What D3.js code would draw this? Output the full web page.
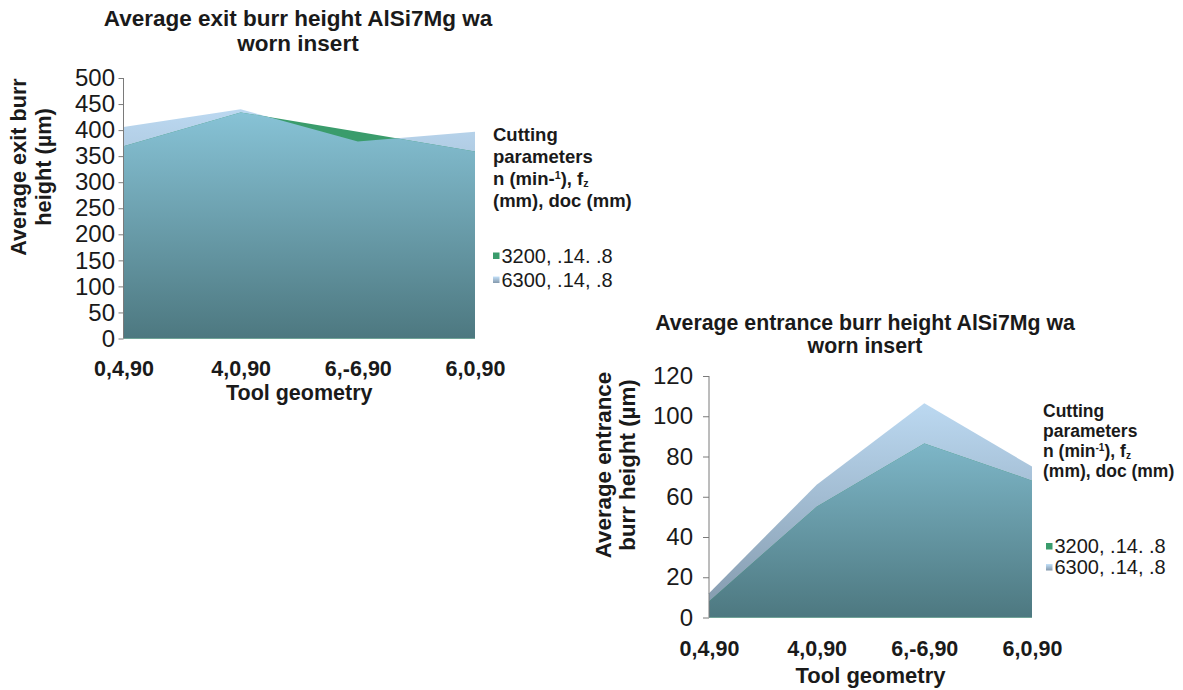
<!DOCTYPE html>
<html>
<head>
<meta charset="utf-8">
<script src="https://cdn.jsdelivr.net/npm/d3@7"></script>
<style>
  html, body { margin: 0; padding: 0; background: #ffffff; }
  svg text { font-family: "Liberation Sans", Arial, Helvetica, sans-serif; fill: #1a1a1a; }
</style>
</head>
<body>
<svg id="chart" width="1183" height="690"></svg>
<script>
// Tool geometry categories shared by both charts
const categories = ["0,4,90", "4,0,90", "6,-6,90", "6,0,90"];

// Cutting parameter sets (n, fz, doc)
const seriesNames = ["3200, .14. .8", "6300, .14, .8"];

// Average exit burr height (µm)
const exit3200 = [369, 434, 397, 359];
const exit6300 = [406, 440, 378, 397];
const exitTicks = [0, 50, 100, 150, 200, 250, 300, 350, 400, 450, 500];

// Average entrance burr height (µm)
const entrance3200 = [8, 55, 86.5, 68];
const entrance6300 = [12, 66, 106.5, 75];
const entranceTicks = [0, 20, 40, 60, 80, 100, 120];

const svg = d3.select("#chart");
const defs = svg.append("defs");

function addGradient(id, y1, y2, stops) {
  const g = defs.append("linearGradient")
    .attr("id", id)
    .attr("gradientUnits", "userSpaceOnUse")
    .attr("x1", 0).attr("x2", 0)
    .attr("y1", y1).attr("y2", y2);
  stops.forEach(s => g.append("stop").attr("offset", s[0]).attr("stop-color", s[1]));
}

const GREEN = "#3a9c6c";
const BAND_STOPS = [[0, "#c3e1fa"], [1, "#8298ab"]];
const FRONT_STOPS = [[0, "#90cee3"], [1, "#4d7880"]];

function drawChart(cfg) {
  const g = svg.append("g");

  const x = d3.scalePoint().domain(categories).range([cfg.left, cfg.right]);
  const y = d3.scaleLinear().domain([0, d3.max(cfg.ticks)]).range([cfg.bottom, cfg.top]);

  addGradient(cfg.id + "-band", cfg.top, cfg.bottom, BAND_STOPS);
  addGradient(cfg.id + "-front", cfg.top, cfg.bottom, FRONT_STOPS);

  const area = d3.area()
    .x((d, i) => x(categories[i]))
    .y0(y(0))
    .y1(d => y(d));

  // clip region: area under the 3200 series
  defs.append("clipPath").attr("id", cfg.id + "-clip")
    .append("path").attr("d", area(cfg.low));

  // 6300 series over the white background
  g.append("path").attr("d", area(cfg.high)).attr("fill", `url(#${cfg.id}-band)`);
  // 3200 series
  g.append("path").attr("d", area(cfg.low)).attr("fill", GREEN);
  // 6300 series seen through the 3200 series
  g.append("path").attr("d", area(cfg.high))
    .attr("clip-path", `url(#${cfg.id}-clip)`)
    .attr("fill", `url(#${cfg.id}-front)`);

  // y axis
  const yAxis = d3.axisLeft(y).tickValues(cfg.ticks).tickSize(cfg.tickLen).tickPadding(cfg.tickPad);
  const ay = g.append("g").attr("transform", `translate(${cfg.left},0)`).call(yAxis);
  ay.select(".domain").attr("stroke", "#7a7a7a").attr("d", `M0,${y(d3.max(cfg.ticks))}V${y(0)}`);
  ay.selectAll(".tick line").attr("stroke", "#7a7a7a");
  ay.selectAll(".tick text")
    .style("font-size", cfg.tickFont + "px")
    .style("fill", "#1a1a1a")
    .attr("font-family", null);

  // x category labels
  const xAxis = d3.axisBottom(x).tickSize(0).tickPadding(0);
  const ax = g.append("g").attr("transform", `translate(0,${cfg.xLabelY})`).call(xAxis);
  ax.select(".domain").remove();
  ax.selectAll(".tick text")
    .attr("dy", null).attr("y", 0)
    .style("font-size", cfg.xFont + "px")
    .style("font-weight", "bold")
    .style("fill", "#1a1a1a")
    .attr("font-family", null);

  // x axis title
  g.append("text")
    .attr("x", (cfg.left + cfg.right) / 2).attr("y", cfg.xTitleY)
    .attr("text-anchor", "middle")
    .style("font-size", cfg.xTitleFont + "px").style("font-weight", "bold")
    .text("Tool geometry");

  // chart title
  cfg.title.forEach((line, i) => {
    g.append("text")
      .attr("x", cfg.titleX).attr("y", cfg.titleY + i * cfg.titleGap)
      .attr("text-anchor", "middle")
      .style("font-size", cfg.titleFont + "px").style("font-weight", "bold")
      .text(line);
  });

  // y axis title (rotated, two lines)
  cfg.yTitle.forEach((line, i) => {
    g.append("text")
      .attr("transform", `translate(${cfg.yTitleX + i * cfg.yTitleGap},${cfg.yTitleMid}) rotate(-90)`)
      .attr("text-anchor", "middle")
      .style("font-size", cfg.yTitleFont + "px").style("font-weight", "bold")
      .text(line);
  });

  // legend heading
  const lg = g.append("g");
  const small = (cfg.legFont * 0.58) + "px";
  const head = (i) => lg.append("text")
    .attr("x", cfg.legX).attr("y", cfg.legY + i * cfg.legGap)
    .style("font-size", cfg.legFont + "px").style("font-weight", "bold");
  head(0).text("Cutting");
  head(1).text("parameters");
  const l3 = head(2);
  l3.append("tspan").text("n (min");
  if (cfg.supMinus) {
    l3.append("tspan").attr("dy", -6).style("font-size", small).text("-1");
    l3.append("tspan").attr("dy", 6).text("), f");
  } else {
    l3.append("tspan").text("-");
    l3.append("tspan").attr("dy", -6).style("font-size", small).text("1");
    l3.append("tspan").attr("dy", 6).text("), f");
  }
  l3.append("tspan").attr("dy", 2).style("font-size", small).text("z");
  head(3).text("(mm), doc (mm)");

  // legend entries
  const swatchFill = [GREEN, `url(#${cfg.id}-swatch)`];
  seriesNames.forEach((name, i) => {
    const yy = cfg.itemY + i * cfg.itemGap;
    if (i === 1) addGradient(cfg.id + "-swatch", yy - 10, yy - 3, [[0, "#c3e1fa"], [1, "#7f93a6"]]);
    lg.append("rect")
      .attr("x", cfg.swX).attr("y", yy - 10).attr("width", 6.5).attr("height", 6.5)
      .attr("fill", swatchFill[i]);
    lg.append("text")
      .attr("x", cfg.swX + 8.5).attr("y", yy)
      .style("font-size", cfg.itemFont + "px")
      .text(name);
  });
}

drawChart({
  id: "exit",
  low: exit3200, high: exit6300, ticks: exitTicks,
  left: 123.5, right: 475, top: 78, bottom: 338.5,
  tickLen: 5, tickPad: 3.5, tickFont: 24,
  xLabelY: 376, xTitleY: 400, xFont: 21.5, xTitleFont: 21.5,
  title: ["Average exit burr height AlSi7Mg wa", "worn insert"],
  titleX: 298, titleY: 26, titleGap: 25, titleFont: 22.5,
  yTitle: ["Average exit burr", "height (\u00b5m)"],
  yTitleX: 26, yTitleGap: 25, yTitleMid: 167, yTitleFont: 21.7,
  legX: 493, legY: 141, legGap: 22, legFont: 18.5, supMinus: false,
  swX: 493, itemY: 262.5, itemGap: 24, itemFont: 20
});

drawChart({
  id: "entrance",
  low: entrance3200, high: entrance6300, ticks: entranceTicks,
  left: 709, right: 1032, top: 376, bottom: 617.5,
  tickLen: 6, tickPad: 10, tickFont: 24,
  xLabelY: 656, xTitleY: 683, xFont: 21.5, xTitleFont: 22,
  title: ["Average entrance burr height AlSi7Mg wa", "worn insert"],
  titleX: 865, titleY: 329.5, titleGap: 23.5, titleFont: 21.3,
  yTitle: ["Average entrance", "burr height (\u00b5m)"],
  yTitleX: 610.5, yTitleGap: 24, yTitleMid: 465, yTitleFont: 22.3,
  legX: 1043, legY: 416.5, legGap: 20.3, legFont: 17.5, supMinus: true,
  swX: 1046, itemY: 553, itemGap: 21, itemFont: 20
});
</script>
</body>
</html>
